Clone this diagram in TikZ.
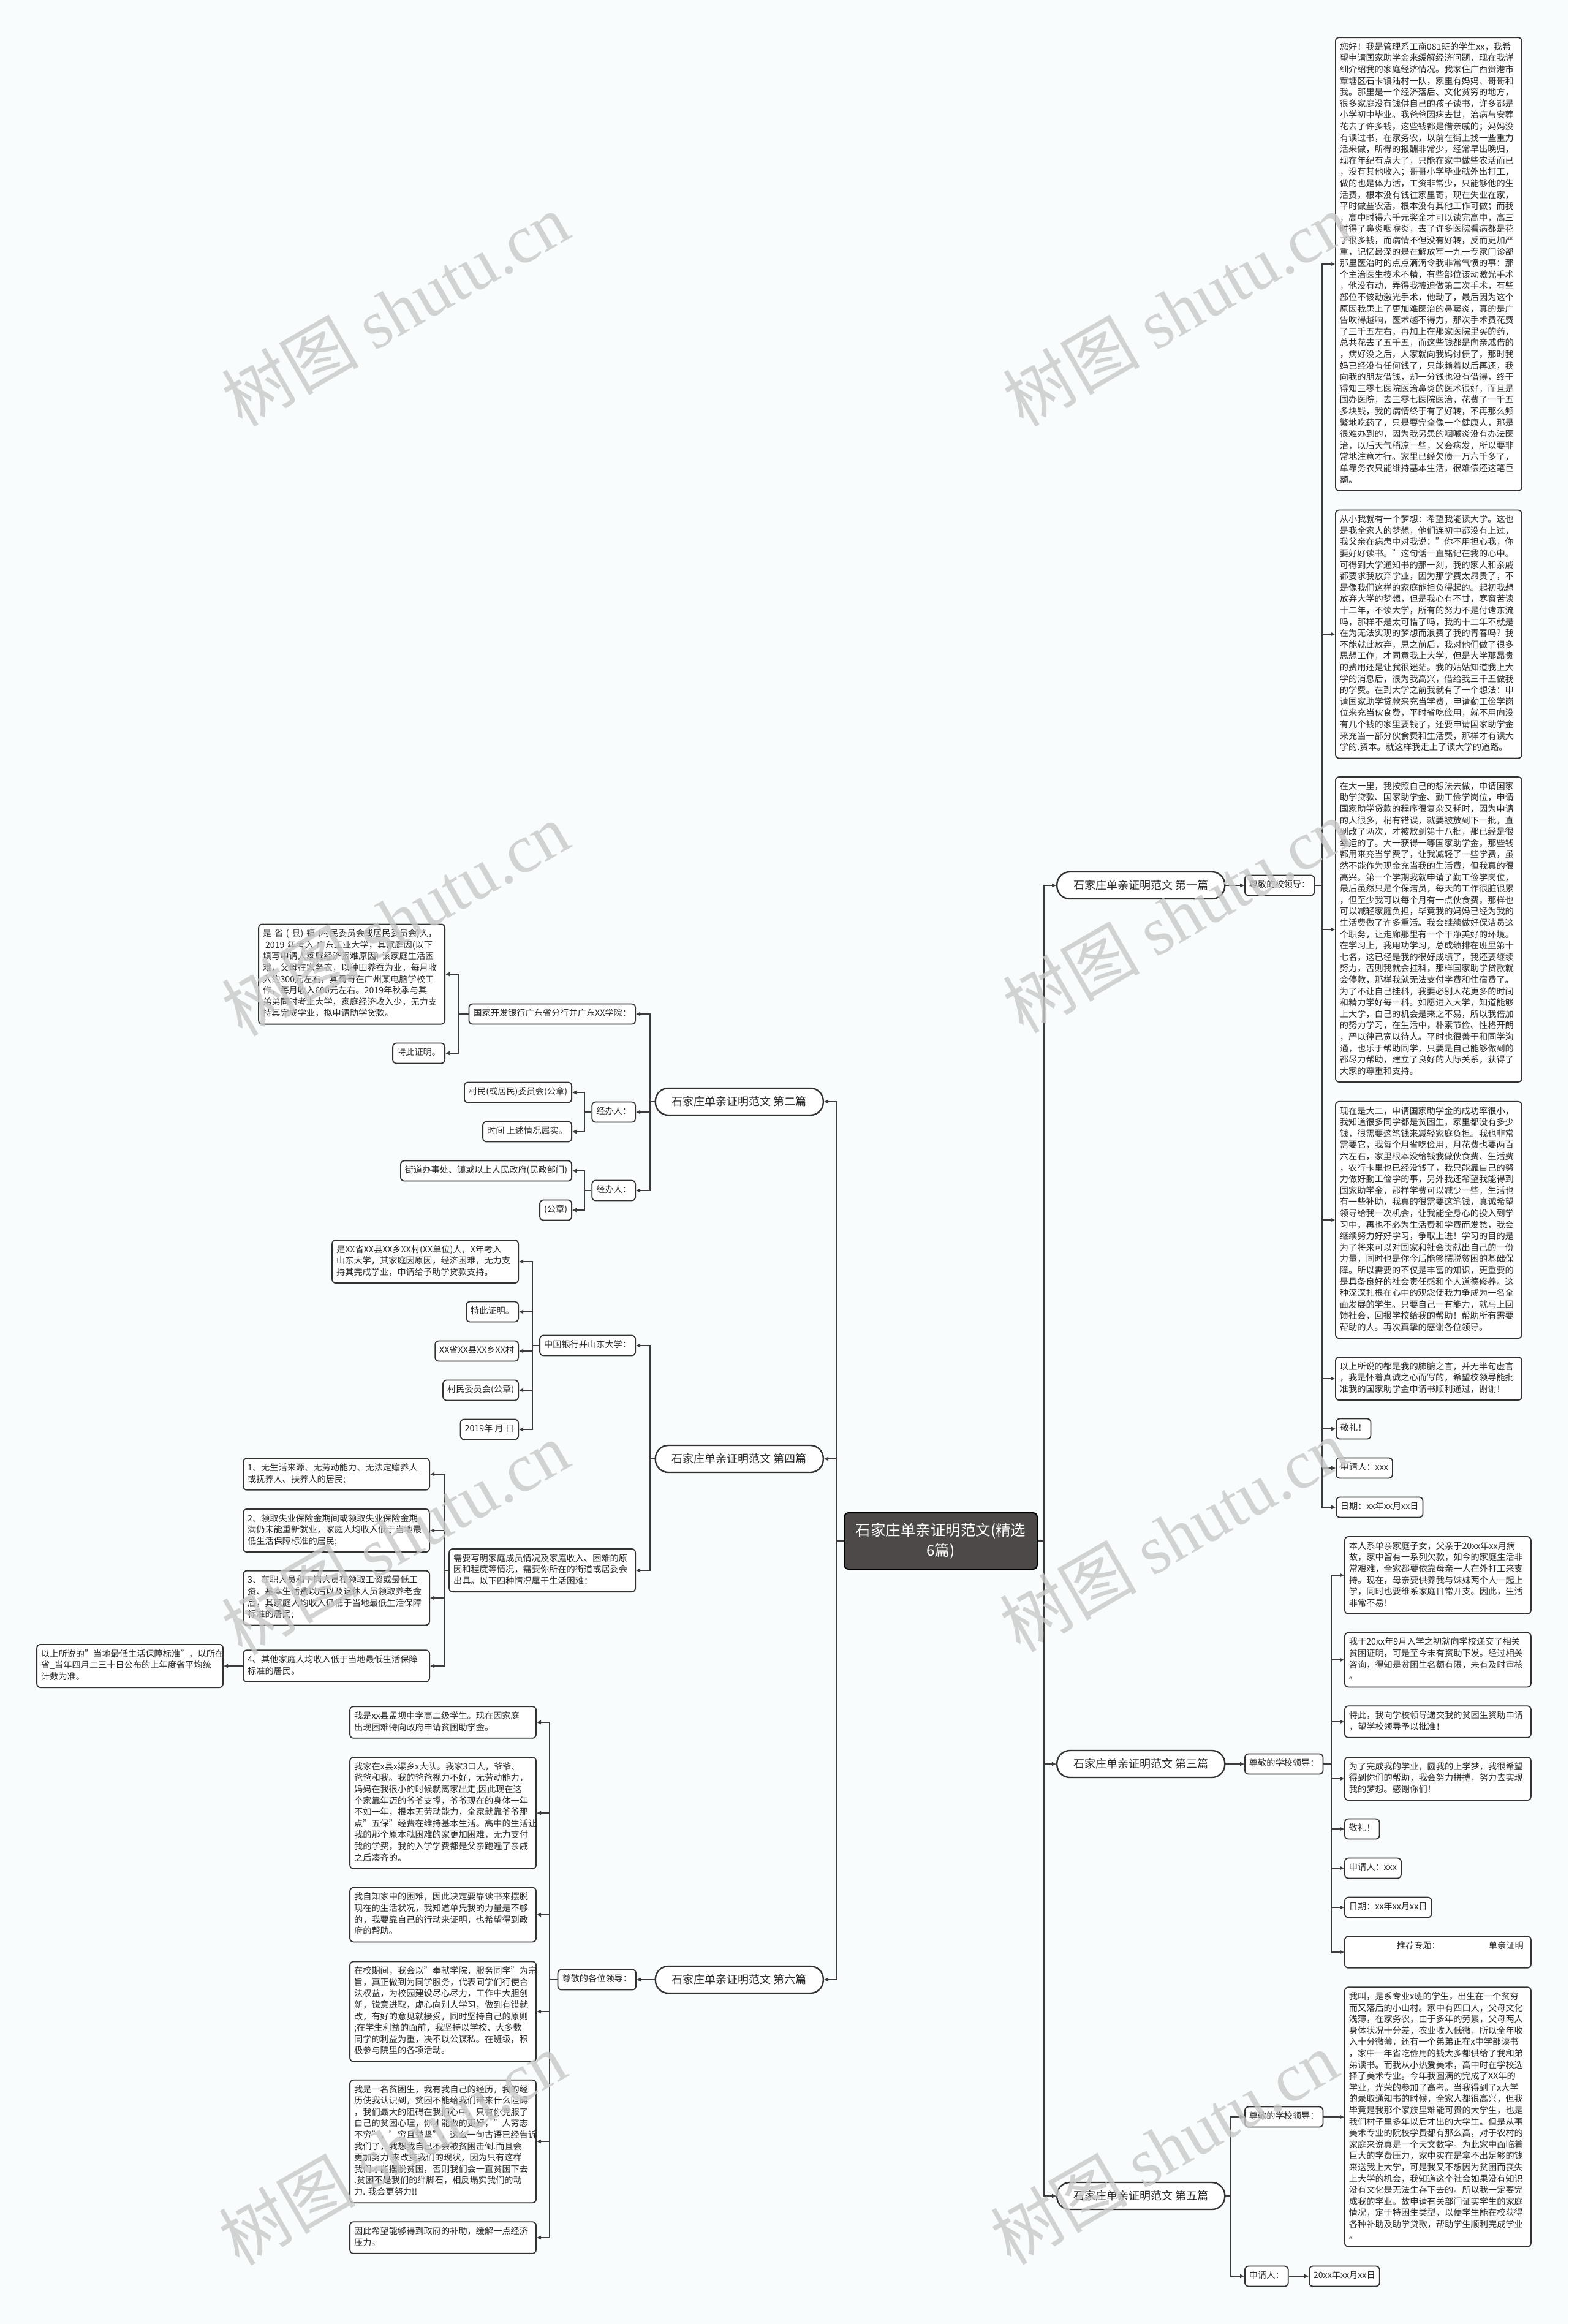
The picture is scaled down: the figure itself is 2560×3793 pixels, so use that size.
\documentclass[tikz,border=0pt]{standalone}
\usepackage{fontspec}
\setmainfont{Noto Sans CJK SC}
\newfontfamily\wmlat{Liberation Serif}
\usetikzlibrary{arrows.meta}
\definecolor{bgc}{RGB}{248,252,253}
\definecolor{boxc}{RGB}{50,50,50}
\definecolor{linec}{RGB}{60,60,60}
\definecolor{txt}{RGB}{40,40,40}
\definecolor{darkc}{RGB}{77,73,72}
\definecolor{wmc}{RGB}{200,200,200}
\tikzset{
  lbl/.style={draw=boxc, line width=1.8pt, fill=white, rounded corners=6pt, text=txt,
    inner xsep=7pt, inner ysep=7.2pt, font=\fontsize{14.2pt}{18.6pt}\selectfont,
    execute at begin node=\strut, execute at end node=\strut},
  para/.style={lbl, text width=290pt, align=left},
  branch/.style={draw=boxc, line width=2.4pt, fill=white, rounded corners=21pt, text=txt,
    minimum width=274pt, minimum height=44pt, inner sep=0pt, font=\fontsize{18pt}{22pt}\selectfont},
  rootn/.style={draw=black, line width=2pt, fill=darkc, rounded corners=7pt,
    minimum width=315pt, minimum height=92pt, text=white, align=center,
    font=\fontsize{24.5pt}{33pt}\selectfont},
  conn/.style={draw=linec, line width=2pt},
  arr/.style={conn, -{Triangle[length=7pt,width=6pt]}},
  wm/.style={text=wmc, text opacity=0.8, rotate=30, font=\fontsize{112pt}{112pt}\selectfont}
}
\begin{document}
\begin{tikzpicture}[x=1pt,y=-1pt]
\useasboundingbox (0,0) rectangle (2560,3793);
\fill[bgc] (0,0) rectangle (2560,3793);

% root and branches
\node[rootn] (root) at (1535.5,2515) {石家庄单亲证明范文(精选\\6篇)};
\coordinate (tL) at (1366,2515);
\coordinate (tR) at (1704,2515);
\node[branch, anchor=west] (b1) at (1724,1445) {石家庄单亲证明范文 第一篇};
\node[branch, anchor=west] (b3) at (1724,2879) {石家庄单亲证明范文 第三篇};
\node[branch, anchor=west] (b5) at (1724,3584) {石家庄单亲证明范文 第五篇};
\node[branch, anchor=east] (b2) at (1345,1798) {石家庄单亲证明范文 第二篇};
\node[branch, anchor=east] (b4) at (1345,2381) {石家庄单亲证明范文 第四篇};
\node[branch, anchor=east] (b6) at (1345,3231) {石家庄单亲证明范文 第六篇};

% ---------- 第一篇 ----------
\node[lbl, anchor=west] (s1) at (2031,1445) {尊敬的校领导：};
\coordinate (f1) at (2158,1445);
\node[para, anchor=west] (r1) at (2179,431) {您好！我是管理系工商081班的学生xx，我希\\望申请国家助学金来缓解经济问题，现在我详\\细介绍我的家庭经济情况。我家住广西贵港市\\覃塘区石卡镇陆村一队，家里有妈妈、哥哥和\\我。那里是一个经济落后、文化贫穷的地方，\\很多家庭没有钱供自己的孩子读书，许多都是\\小学初中毕业。我爸爸因病去世，治病与安葬\\花去了许多钱，这些钱都是借亲戚的；妈妈没\\有读过书，在家务农，以前在街上找一些重力\\活来做，所得的报酬非常少，经常早出晚归，\\现在年纪有点大了，只能在家中做些农活而已\\，没有其他收入；哥哥小学毕业就外出打工，\\做的也是体力活，工资非常少，只能够他的生\\活费，根本没有钱往家里寄，现在失业在家，\\平时做些农活，根本没有其他工作可做；而我\\，高中时得六千元奖金才可以读完高中，高三\\时得了鼻炎咽喉炎，去了许多医院看病都是花\\了很多钱，而病情不但没有好转，反而更加严\\重，记忆最深的是在解放军一九一专家门诊部\\那里医治时的点点滴滴令我非常气愤的事：那\\个主治医生技术不精，有些部位该动激光手术\\，他没有动，弄得我被迫做第二次手术，有些\\部位不该动激光手术，他动了，最后因为这个\\原因我患上了更加难医治的鼻窦炎，真的是广\\告吹得越响，医术越不得力，那次手术费花费\\了三千五左右，再加上在那家医院里买的药，\\总共花去了五千五，而这些钱都是向亲戚借的\\，病好没之后，人家就向我妈讨债了，那时我\\妈已经没有任何钱了，只能赖着以后再还，我\\向我的朋友借钱，却一分钱也没有借得，终于\\得知三零七医院医治鼻炎的医术很好，而且是\\国办医院，去三零七医院医治，花费了一千五\\多块钱，我的病情终于有了好转，不再那么频\\繁地吃药了，只是要完全像一个健康人，那是\\很难办到的，因为我另患的咽喉炎没有办法医\\治，以后天气稍凉一些，又会病发，所以要非\\常地注意才行。家里已经欠债一万六千多了，\\单靠务农只能维持基本生活，很难偿还这笔巨\\额。};
\node[para, anchor=west] (r2) at (2179,1035) {从小我就有一个梦想：希望我能读大学。这也\\是我全家人的梦想，他们连初中都没有上过，\\我父亲在病患中对我说："你不用担心我，你\\要好好读书。"这句话一直铭记在我的心中。\\可得到大学通知书的那一刻，我的家人和亲戚\\都要求我放弃学业，因为那学费太昂贵了，不\\是像我们这样的家庭能担负得起的。起初我想\\放弃大学的梦想，但是我心有不甘，寒窗苦读\\十二年，不读大学，所有的努力不是付诸东流\\吗，那样不是太可惜了吗，我的十二年不就是\\在为无法实现的梦想而浪费了我的青春吗？我\\不能就此放弃，思之前后，我对他们做了很多\\思想工作，才同意我上大学，但是大学那昂贵\\的费用还是让我很迷茫。我的姑姑知道我上大\\学的消息后，很为我高兴，借给我三千五做我\\的学费。在到大学之前我就有了一个想法：申\\请国家助学贷款来充当学费，申请勤工俭学岗\\位来充当伙食费，平时省吃俭用，就不用向没\\有几个钱的家里要钱了，还要申请国家助学金\\来充当一部分伙食费和生活费，那样才有读大\\学的.资本。就这样我走上了读大学的道路。};
\node[para, anchor=west] (r3) at (2179,1517) {在大一里，我按照自己的想法去做，申请国家\\助学贷款、国家助学金、勤工俭学岗位，申请\\国家助学贷款的程序很复杂又耗时，因为申请\\的人很多，稍有错误，就要被放到下一批，直\\到改了两次，才被放到第十八批，那已经是很\\幸运的了。大一获得一等国家助学金，那些钱\\都用来充当学费了，让我减轻了一些学费，虽\\然不能作为现金充当我的生活费，但我真的很\\高兴。第一个学期我就申请了勤工俭学岗位，\\最后虽然只是个保洁员，每天的工作很脏很累\\，但至少我可以每个月有一点伙食费，那样也\\可以减轻家庭负担，毕竟我的妈妈已经为我的\\生活费做了许多重活。我会继续做好保洁员这\\个职务，让走廊那里有一个干净美好的环境。\\在学习上，我用功学习，总成绩排在班里第十\\七名，这已经是我的很好成绩了，我还要继续\\努力，否则我就会挂科，那样国家助学贷款就\\会停款，那样我就无法支付学费和住宿费了。\\为了不让自己挂科，我要必别人花更多的时间\\和精力学好每一科。如愿进入大学，知道能够\\上大学，自己的机会是来之不易，所以我倍加\\的努力学习，在生活中，朴素节俭、性格开朗\\，严以律己宽以待人。平时也很善于和同学沟\\通，也乐于帮助同学，只要是自己能够做到的\\都尽力帮助，建立了良好的人际关系，获得了\\大家的尊重和支持。};
\node[para, anchor=west] (r4) at (2179,1991) {现在是大二，申请国家助学金的成功率很小，\\我知道很多同学都是贫困生，家里都没有多少\\钱，很需要这笔钱来减轻家庭负担。我也非常\\需要它，我每个月省吃俭用，月花费也要两百\\六左右，家里根本没给钱我做伙食费、生活费\\，农行卡里也已经没钱了，我只能靠自己的努\\力做好勤工俭学的事，另外我还希望我能得到\\国家助学金，那样学费可以减少一些，生活也\\有一些补助，我真的很需要这笔钱，真诚希望\\领导给我一次机会，让我能全身心的投入到学\\习中，再也不必为生活费和学费而发愁，我会\\继续努力好好学习，争取上进！学习的目的是\\为了将来可以对国家和社会贡献出自己的一份\\力量，同时也是你今后能够摆脱贫困的基础保\\障。所以需要的不仅是丰富的知识，更重要的\\是具备良好的社会责任感和个人道德修养。这\\种深深扎根在心中的观念使我力争成为一名全\\面发展的学生。只要自己一有能力，就马上回\\馈社会，回报学校给我的帮助！帮助所有需要\\帮助的人。再次真挚的感谢各位领导。};
\node[para, anchor=west] (r5) at (2179,2250) {以上所说的都是我的肺腑之言，并无半句虚言\\，我是怀着真诚之心而写的，希望校领导能批\\准我的国家助学金申请书顺利通过，谢谢！};
\node[lbl, anchor=west] (r6) at (2180,2332) {敬礼！};
\node[lbl, anchor=west] (r7) at (2180,2396) {申请人：xxx};
\node[lbl, anchor=west] (r8) at (2180,2460) {日期：xx年xx月xx日};

% ---------- 第三篇 ----------
\node[lbl, anchor=west] (s3) at (2031,2879) {尊敬的学校领导：};
\coordinate (f3) at (2173,2879);
\node[para, anchor=west] (t1) at (2194,2571) {本人系单亲家庭子女，父亲于20xx年xx月病\\故，家中留有一系列欠款，如今的家庭生活非\\常艰难，全家都要依靠母亲一人在外打工来支\\持。现在，母亲要供养我与妹妹两个人一起上\\学，同时也要维系家庭日常开支。因此，生活\\非常不易！};
\node[para, anchor=west] (t2) at (2194,2709) {我于20xx年9月入学之初就向学校递交了相关\\贫困证明，可是至今未有资助下发。经过相关\\咨询，得知是贫困生名额有限，未有及时审核\\。};
\node[para, anchor=west] (t3) at (2194,2810) {特此，我向学校领导递交我的贫困生资助申请\\，望学校领导予以批准！};
\node[para, anchor=west] (t4) at (2194,2903) {为了完成我的学业，圆我的上学梦，我很希望\\得到你们的帮助，我会努力拼搏，努力去实现\\我的梦想。感谢你们！};
\node[lbl, anchor=west] (t5) at (2194,2985) {敬礼！};
\node[lbl, anchor=west] (t6) at (2194,3049) {申请人：xxx};
\node[lbl, anchor=west] (t7) at (2194,3113) {日期：xx年xx月xx日};
\node[para, anchor=west] (t8) at (2194,3186) {\hspace*{78pt}推荐专题：\hspace*{79pt}单亲证明\\\mbox{}};

% ---------- 第五篇 ----------
\coordinate (f5) at (2009,3584);
\node[lbl, anchor=west] (s5) at (2031,3455) {尊敬的学校领导：};
\node[lbl, anchor=west] (ap5) at (2031,3715) {申请人：};
\node[lbl, anchor=west] (d5) at (2136,3715) {20xx年xx月xx日};
\node[para, anchor=west] (u1) at (2194,3455) {我叫，是系专业x班的学生，出生在一个贫穷\\而又落后的小山村。家中有四口人，父母文化\\浅薄，在家务农，由于多年的劳累，父母两人\\身体状况十分差，农业收入低微，所以全年收\\入十分微薄，还有一个弟弟正在x中学部读书\\，家中一年省吃俭用的钱大多都供给了我和弟\\弟读书。而我从小热爱美术，高中时在学校选\\择了美术专业。今年我圆满的完成了XX年的\\学业，光荣的参加了高考。当我得到了x大学\\的录取通知书的时候，全家人都很高兴，但我\\毕竟是我那个家族里难能可贵的大学生，也是\\我们村子里多年以后才出的大学生。但是从事\\美术专业的院校学费都有那么高，对于农村的\\家庭来说真是一个天文数字。为此家中面临着\\巨大的学费压力，家中实在是拿不出足够的钱\\来送我上大学，可是我又不想因为贫困而丧失\\上大学的机会，我知道这个社会如果没有知识\\没有文化是无法生存下去的。所以我一定要完\\成我的学业。故申请有关部门证实学生的家庭\\情况，定于特困生类型，以便学生能在校获得\\各种补助及助学贷款，帮助学生顺利完成学业\\。};

% ---------- 第二篇 ----------
\coordinate (g2) at (1061,1798);
\node[lbl, anchor=east] (gj) at (1038,1655) {国家开发银行广东省分行并广东XX学院：};
\node[lbl, anchor=east] (jb1) at (1038,1815) {经办人：};
\node[lbl, anchor=east] (jb2) at (1038,1943) {经办人：};
\coordinate (fgj) at (749,1655);
\coordinate (fjb1) at (954,1815);
\coordinate (fjb2) at (954,1943);
\node[para, anchor=east] (a1) at (727,1590) {是 省 ( 县) 镇 (村民委员会或居民委员会)人，\\\hspace*{4pt}2019~年考入~广东工业大学，其家庭因(以下\\填写申请人家庭经济困难原因) 该家庭生活困\\难，父母在家务农，以种田养蚕为业，每月收\\入约300元左右，其哥哥在广州某电脑学校工\\作，每月收入600元左右。2019年秋季与其\\弟弟同时考上大学，家庭经济收入少，无力支\\持其完成学业，拟申请助学贷款。};
\node[lbl, anchor=east] (a2) at (727,1719) {特此证明。};
\node[lbl, anchor=east] (cm) at (934,1783) {村民(或居民)委员会(公章)};
\node[lbl, anchor=east] (sj) at (934,1847) {时间~上述情况属实。};
\node[lbl, anchor=east] (jd) at (934,1911) {街道办事处、镇或以上人民政府(民政部门)};
\node[lbl, anchor=east] (gz) at (934,1975) {(公章)};

% ---------- 第四篇 ----------
\coordinate (g4) at (1061,2381);
\node[lbl, anchor=east] (zg) at (1038,2196) {中国银行并山东大学：};
\node[para, anchor=east] (xy) at (1038,2563) {需要写明家庭成员情况及家庭收入、困难的原\\因和程度等情况，需要你所在的街道或居委会\\出具。以下四种情况属于生活困难：};
\coordinate (fzg) at (869,2196);
\coordinate (fxy) at (725,2563);
\node[para, anchor=east] (k1) at (847,2059) {是XX省XX县XX乡XX村(XX单位)人，X年考入\\山东大学，其家庭因原因，经济困难，无力支\\持其完成学业，申请给予助学贷款支持。};
\node[lbl, anchor=east] (k2) at (847,2141) {特此证明。};
\node[lbl, anchor=east] (k3) at (847,2205) {XX省XX县XX乡XX村};
\node[lbl, anchor=east] (k4) at (847,2269) {村民委员会(公章)};
\node[lbl, anchor=east] (k5) at (847,2333) {2019年~月~日};
\node[para, anchor=east] (n1) at (702,2406) {1、无生活来源、无劳动能力、无法定赡养人\\或抚养人、扶养人的居民;};
\node[para, anchor=east] (n2) at (702,2498) {2、领取失业保险金期间或领取失业保险金期\\满仍未能重新就业，家庭人均收入低于当地最\\低生活保障标准的居民;};
\node[para, anchor=east] (n3) at (702,2608) {3、在职人员和下岗人员在领取工资或最低工\\资、基本生活费以后以及退休人员领取养老金\\后，其家庭人均收入仍低于当地最低生活保障\\标准的居民;};
\node[para, anchor=east] (n4) at (702,2719) {4、其他家庭人均收入低于当地最低生活保障\\标准的居民。};
\node[para, anchor=east] (ys) at (365,2719) {以上所说的"当地最低生活保障标准"，以所在\\省\_当年四月二三十日公布的上年度省平均统\\计数为准。};

% ---------- 第六篇 ----------
\node[lbl, anchor=east] (zj) at (1039,3231) {尊敬的各位领导：};
\coordinate (fzj) at (897,3231);
\node[para, anchor=east] (w1) at (876,2811) {我是xx县孟坝中学高二级学生。现在因家庭\\出现困难特向政府申请贫困助学金。};
\node[para, anchor=east] (w2) at (876,2959) {我家在x县x渠乡x大队。我家3口人，爷爷、\\爸爸和我。我的爸爸视力不好，无劳动能力，\\妈妈在我很小的时候就离家出走;因此现在这\\个家靠年迈的爷爷支撑，爷爷现在的身体一年\\不如一年，根本无劳动能力，全家就靠爷爷那\\点"五保"经费在维持基本生活。高中的生活让\\我的那个原本就困难的家更加困难，无力支付\\我的学费，我的入学学费都是父亲跑遍了亲戚\\之后凑齐的。};
\node[para, anchor=east] (w3) at (876,3125) {我自知家中的困难，因此决定要靠读书来摆脱\\现在的生活状况，我知道单凭我的力量是不够\\的，我要靠自己的行动来证明，也希望得到政\\府的帮助。};
\node[para, anchor=east] (w4) at (876,3283) {在校期间，我会以"奉献学院，服务同学"为宗\\旨，真正做到为同学服务，代表同学们行使合\\法权益，为校园建设尽心尽力，工作中大胆创\\新，锐意进取，虚心向别人学习，做到有错就\\改，有好的意见就接受，同时坚持自己的原则\\;在学生利益的面前，我坚持以学校、大多数\\同学的利益为重，决不以公谋私。在班级，积\\极参与院里的各项活动。};
\node[para, anchor=east] (w5) at (876,3495) {我是一名贫困生，我有我自己的经历，我的经\\历使我认识到，贫困不能给我们带来什么阻碍\\，我们最大的阻碍在我们心中，只有你克服了\\自己的贫困心理，你才能做的更好，"人穷志\\不穷"，'穷且益坚"，这么一句古语已经告诉\\我们了，我想我自己不会被贫困击倒.而且会\\更加努力.来改变我们的现状，因为只有这样\\我们才能摆脱贫困，否则我们会一直贫困下去\\.贫困不是我们的绊脚石，相反塌实我们的动\\力.~我会更努力!!};
\node[para, anchor=east] (w6) at (876,3652) {因此希望能够得到政府的补助，缓解一点经济\\压力。};

% ---------- connectors ----------
\draw[arr] (root.west) -- (tL) |- (b2.east);
\draw[arr] (root.west) -- (tL) |- (b4.east);
\draw[arr] (root.west) -- (tL) |- (b6.east);
\draw[arr] (root.east) -- (tR) |- (b1.west);
\draw[arr] (root.east) -- (tR) |- (b3.west);
\draw[arr] (root.east) -- (tR) |- (b5.west);

\draw[arr] (b1.east) -- (s1.west);
\foreach \n in {r1,r2,r3,r4,r5,r6,r7,r8} \draw[arr] (s1.east) -- (f1) |- (\n.west);

\draw[arr] (b3.east) -- (s3.west);
\foreach \n in {t1,t2,t3,t4,t5,t6,t7,t8} \draw[arr] (s3.east) -- (f3) |- (\n.west);

\draw[arr] (b5.east) -- (f5) |- (s5.west);
\draw[arr] (b5.east) -- (f5) |- (ap5.west);
\draw[arr] (s5.east) -- (u1.west);
\draw[arr] (ap5.east) -- (d5.west);

\foreach \n in {gj,jb1,jb2} \draw[arr] (b2.west) -- (g2) |- (\n.east);
\foreach \n in {a1,a2} \draw[arr] (gj.west) -- (fgj) |- (\n.east);
\foreach \n in {cm,sj} \draw[arr] (jb1.west) -- (fjb1) |- (\n.east);
\foreach \n in {jd,gz} \draw[arr] (jb2.west) -- (fjb2) |- (\n.east);

\foreach \n in {zg,xy} \draw[arr] (b4.west) -- (g4) |- (\n.east);
\foreach \n in {k1,k2,k3,k4,k5} \draw[arr] (zg.west) -- (fzg) |- (\n.east);
\foreach \n in {n1,n2,n3,n4} \draw[arr] (xy.west) -- (fxy) |- (\n.east);
\draw[arr] (n4.west) -- (ys.east);

\draw[arr] (b6.west) -- (zj.east);
\foreach \n in {w1,w2,w3,w4,w5,w6} \draw[arr] (zj.west) -- (fzj) |- (\n.east);

% ---------- watermark ----------
\foreach \wx/\wy in {645/505, 645/1500, 645/2510, 640/3506, 1920/505, 1920/1495, 1915/2505, 1900/3505}
  \node[wm] at (\wx,\wy) {树图 {\wmlat shutu.cn}};
\end{tikzpicture}
\end{document}
